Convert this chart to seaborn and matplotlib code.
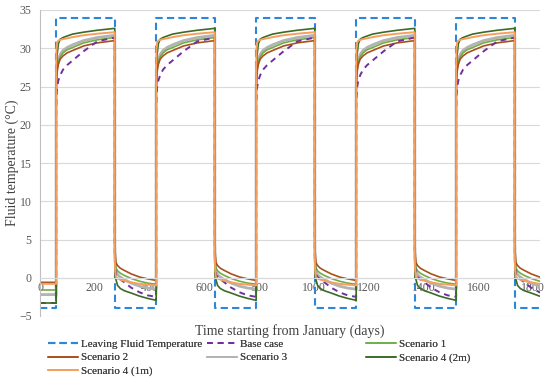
import matplotlib
matplotlib.use("Agg")
import matplotlib.pyplot as plt
from matplotlib.lines import Line2D
from matplotlib.ticker import MultipleLocator
import seaborn as sns
import pandas as pd

# ---------------- data ----------------
RISE_DAYS = [59, 424, 789, 1154, 1519]      # start of warm phase each year
FALL_DAYS = [273, 638, 1003, 1368, 1733]    # start of cold phase each year
END_DAY = 1825
LFT_LOW = -4
LFT_HIGH = 34

# day offsets within each phase
HIGH_OFFSETS = [0, 1, 3, 8, 15, 25, 40, 60, 100, 150, 214]
LOW_OFFSETS = [0, 1, 4, 10, 20, 35, 60, 90, 120, 151]

# initial (before first rise) temperature
init_base = -3.3
init_s1 = -1.6
init_s2 = -0.6
init_s3 = -2.2
init_s4_2m = -3.3
init_s4_1m = -0.8

# warm-phase profiles
high_base = [22.0, 23.5, 24.8, 25.8, 26.5, 27.2, 27.8, 28.4, 29.6, 30.9, 31.4]
high_s1 = [24.5, 26.0, 27.3, 28.3, 28.9, 29.4, 29.8, 30.1, 30.7, 31.1, 31.4]
high_s2 = [24.0, 25.6, 26.9, 27.9, 28.6, 29.0, 29.4, 29.7, 30.3, 30.7, 31.0]
high_s3 = [24.5, 26.3, 27.6, 28.6, 29.2, 29.7, 30.1, 30.45, 31.0, 31.4, 31.7]
high_s4_2m = [25.0, 27.0, 29.0, 30.6, 31.2, 31.4, 31.6, 31.85, 32.1, 32.35, 32.6]
high_s4_1m = [27.5, 29.8, 30.7, 31.0, 31.1, 31.2, 31.3, 31.45, 31.7, 31.9, 32.1]

# cold-phase profiles
low_base = [3.5, 1.5, 0.4, 0.1, -0.2, -0.6, -1.3, -1.9, -2.3, -2.5]
low_s1 = [5.0, 2.8, 1.3, 0.9, 0.6, 0.3, -0.1, -0.45, -0.7, -0.85]
low_s2 = [6.0, 3.5, 2.0, 1.6, 1.25, 0.95, 0.5, 0.1, -0.15, -0.35]
low_s3 = [4.5, 2.5, 0.9, 0.4, 0.1, -0.25, -0.7, -1.1, -1.35, -1.5]
low_s4_2m = [2.0, 0.0, -0.2, -1.0, -1.4, -1.7, -2.0, -2.4, -2.7, -2.95]
low_s4_1m = [3.0, 1.0, 0.1, -0.1, -0.25, -0.4, -0.6, -0.8, -0.9, -1.0]

X_TICKS = [0, 200, 400, 600, 800, 1000, 1200, 1400, 1600, 1800]
Y_TICKS = [-5, 0, 5, 10, 15, 20, 25, 30, 35]

LABELS = ["Leaving Fluid Temperature", "Base case", "Scenario 1", "Scenario 2",
          "Scenario 3", "Scenario 4 (2m)", "Scenario 4 (1m)"]
COLORS = ["#2B88D8", "#7030A0", "#70AD47", "#A9501A", "#B3B3B3", "#3B6B26", "#F5A05E"]


def build(init, high, low):
    t = [0, RISE_DAYS[0]]
    v = [init, init]
    for r, f in zip(RISE_DAYS, FALL_DAYS):
        t += [r + o for o in HIGH_OFFSETS]
        v += high
        t += [f + o for o in LOW_OFFSETS]
        v += low
    return pd.DataFrame({"day": t, "temp": v})


def build_lft():
    t = [0]
    v = [LFT_LOW]
    for r, f in zip(RISE_DAYS, FALL_DAYS):
        t += [r, r, f, f]
        v += [LFT_LOW, LFT_HIGH, LFT_HIGH, LFT_LOW]
    t.append(END_DAY)
    v.append(LFT_LOW)
    return pd.DataFrame({"day": t, "temp": v})


series = {
    "Leaving Fluid Temperature": build_lft(),
    "Base case": build(init_base, high_base, low_base),
    "Scenario 1": build(init_s1, high_s1, low_s1),
    "Scenario 2": build(init_s2, high_s2, low_s2),
    "Scenario 3": build(init_s3, high_s3, low_s3),
    "Scenario 4 (2m)": build(init_s4_2m, high_s4_2m, low_s4_2m),
    "Scenario 4 (1m)": build(init_s4_1m, high_s4_1m, low_s4_1m),
}

# ---------------- style ----------------
sns.set_style("white")
plt.rcParams["font.family"] = ["Liberation Serif", "DejaVu Serif"]

widths = {"Leaving Fluid Temperature": 1.5, "Base case": 1.4, "Scenario 1": 1.2,
          "Scenario 2": 1.2, "Scenario 3": 2.0, "Scenario 4 (2m)": 1.2,
          "Scenario 4 (1m)": 1.4}
dashes = {"Leaving Fluid Temperature": (3.5, 2.0), "Base case": (3.0, 2.5)}

fig = plt.figure(figsize=(5.5, 3.86), dpi=100)
ax = fig.add_axes([40 / 550, 1 - 316 / 386, 500 / 550, 306 / 386])

draw_order = ["Leaving Fluid Temperature", "Scenario 3", "Scenario 1", "Scenario 2",
              "Base case", "Scenario 4 (2m)", "Scenario 4 (1m)"]
for name in draw_order:
    df = series[name]
    c = COLORS[LABELS.index(name)]
    sns.lineplot(data=df, x="day", y="temp", ax=ax, color=c,
                 lw=widths[name], estimator=None, sort=False, legend=False)
    ln = ax.lines[-1]
    if name in dashes:
        ln.set_dashes(dashes[name])

ax.set_xlim(0, END_DAY)
ax.set_ylim(-5, 35)
ax.set_xticks(X_TICKS)
ax.set_yticks(Y_TICKS)
ax.yaxis.set_minor_locator(MultipleLocator(1))
ax.grid(axis="y", color="#D9D9D9", lw=0.8)
ax.set_axisbelow(True)

for s in ["top", "right"]:
    ax.spines[s].set_visible(False)
ax.spines["bottom"].set_position(("data", 0))
ax.spines["bottom"].set_color("#D9D9D9")
ax.spines["bottom"].set_linewidth(0.8)
ax.spines["left"].set_color("#BFBFBF")
ax.spines["left"].set_linewidth(0.8)

ax.tick_params(axis="x", length=0, pad=3, labelsize=8.5, labelcolor="#595959")
ax.tick_params(axis="y", which="major", length=4, width=0.7, color="#BFBFBF",
               labelsize=8.5, labelcolor="#595959", pad=2)
ax.tick_params(axis="y", which="minor", length=2.5, width=0.6, color="#BFBFBF")

ax.set_xlabel("")
ax.set_ylabel("Fluid temperature (°C)", fontsize=10, color="#404040")
ax.yaxis.label.set_verticalalignment("center")
ax.yaxis.set_label_coords(-28 / 500, 0.5)
fig.text(290 / 550, 1 - 331 / 386, "Time starting from January (days)",
         ha="center", va="center", fontsize=10, color="#404040")

# ---------------- legend (3 equal columns, row-wise order) ----------------
handles = {}
for name, c in zip(LABELS, COLORS):
    h = Line2D([0], [0], color=c, lw=widths[name] if name != "Scenario 3" else 1.4)
    if name in dashes:
        h.set_dashes(dashes[name])
    handles[name] = h

columns = [
    (48, ["Leaving Fluid Temperature", "Scenario 2", "Scenario 4 (1m)"]),
    (207, ["Base case", "Scenario 3"]),
    (366, ["Scenario 1", "Scenario 4 (2m)"]),
]
for x0, names in columns:
    leg = fig.legend([handles[n] for n in names], names,
                     loc="upper left", bbox_to_anchor=(x0 / 550, 1 - 339 / 386),
                     frameon=False, fontsize=8, handlelength=2.7,
                     handletextpad=0.3, labelspacing=0.35, borderpad=0,
                     borderaxespad=0, labelcolor="#404040")
    fig.add_artist(leg)

fig.savefig("out.png", dpi=100)
